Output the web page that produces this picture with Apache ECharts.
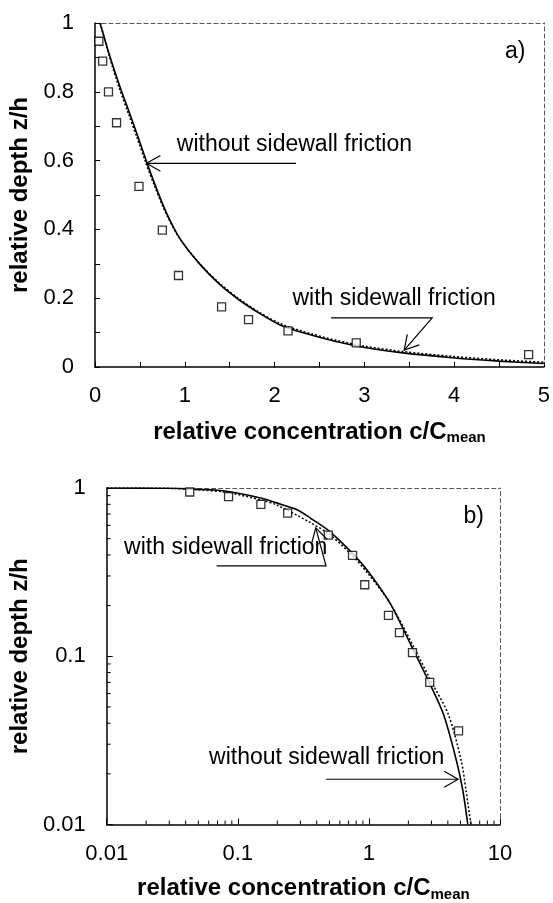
<!DOCTYPE html>
<html>
<head>
<meta charset="utf-8">
<script src="https://cdn.jsdelivr.net/npm/echarts@6.0.0/dist/echarts.min.js"></script>
<style>
html,body{margin:0;padding:0;background:#fff;}
#c{width:553px;height:903px;}
</style>
</head>
<body>
<div id="c"></div>
<script>
// measured points (both panels)
const measX = [0.043, 0.085, 0.15, 0.24, 0.49, 0.75, 0.93, 1.41, 1.71, 2.15, 2.91, 4.83];
const measY = [0.947, 0.889, 0.80, 0.71, 0.525, 0.398, 0.266, 0.175, 0.138, 0.105, 0.07, 0.036];
// panel a) curves
const aSolidX = [0.055,0.167,0.278,0.389,0.481,0.574,0.667,0.796,0.944,1.167,1.389,1.611,1.833,2.056,2.31,2.685,3.02,3.43,3.98,4.5,5.0];
const aSolidY = [1.0,0.902,0.815,0.735,0.667,0.597,0.531,0.448,0.374,0.299,0.24,0.194,0.156,0.123,0.1,0.074,0.056,0.041,0.027,0.017,0.01];
const aDotX = [0.06,0.158,0.265,0.374,0.468,0.562,0.656,0.788,0.94,1.165,1.39,1.61,1.83,2.056,2.31,2.685,3.02,3.43,3.98,4.5,5.0];
const aDotY = [1.0,0.905,0.815,0.735,0.667,0.597,0.531,0.448,0.375,0.301,0.243,0.197,0.159,0.127,0.104,0.078,0.06,0.045,0.031,0.021,0.014];
// panel b) curves
const bSolidX = [0.01,0.03,0.05,0.077,0.152,0.2,0.283,0.355,0.5,0.74,1.0,1.46,2.11,2.88,3.71,4.65,5.2,5.68];
const bSolidY = [1.0,0.996,0.982,0.962,0.87,0.813,0.743,0.665,0.553,0.413,0.315,0.205,0.115,0.07,0.045,0.024,0.016,0.01];
const bDotX = [0.01,0.03,0.05,0.08,0.15,0.2,0.355,0.5,0.74,1.0,1.46,2.23,3.04,4.04,5.06,5.5,6.0];
const bDotY = [1.0,0.995,0.975,0.945,0.85,0.79,0.625,0.53,0.4,0.305,0.205,0.111,0.069,0.045,0.024,0.016,0.01];
// log minor tick values
const logMinorX = [0.02,0.03,0.04,0.05,0.06,0.07,0.08,0.09,0.2,0.3,0.4,0.5,0.6,0.7,0.8,0.9,2,3,4,5,6,7,8,9];
const logMinorY = [0.02,0.03,0.04,0.05,0.06,0.07,0.08,0.09,0.2,0.3,0.4,0.5,0.6,0.7,0.8,0.9];
const logLabelsX = [0.01, 0.1, 1, 10];
const logLabelsY = [0.01, 0.1, 1];

const FF = '"Liberation Sans", Arial, sans-serif';
const zip = (xs, ys) => xs.map((x, i) => [x, ys[i]]);

const chart = echarts.init(document.getElementById('c'), null, {renderer: 'canvas'});

const xTitle = {
  name: '{a|relative concentration c/C}{b|mean}',
  nameLocation: 'middle',
  nameTextStyle: {
    rich: {
      a: {fontSize: 24, fontWeight: 'bold', fontFamily: FF, color: '#000', lineHeight: 30},
      b: {fontSize: 15, fontWeight: 'bold', fontFamily: FF, color: '#000', lineHeight: 30, padding: [12, 0, 0, 0]}
    }
  }
};
const yTitleStyle = {fontSize: 24, fontWeight: 'bold', fontFamily: FF, color: '#000'};
const mainLine = {show: true, onZero: false, lineStyle: {color: '#000', width: 1.5}};
const borderLine = {show: true, onZero: false, lineStyle: {color: '#555', width: 1, type: [4, 3]}};
const labelStyle = {fontSize: 22, fontFamily: FF, color: '#000'};

function tickSeries(xi, yi, data, vertical) {
  return {
    type: 'custom', xAxisIndex: xi, yAxisIndex: yi, clip: false, silent: true, z: 5,
    data: data,
    renderItem: function (params, api) {
      const p = api.coord([api.value(0), api.value(1)]);
      const q = vertical ? [p[0], p[1] - 4] : [p[0] + 4, p[1]];
      return {type: 'line', shape: {x1: p[0], y1: p[1], x2: q[0], y2: q[1]}, style: {stroke: '#000', lineWidth: 1}};
    }
  };
}

const option = {
  backgroundColor: '#fff',
  animation: false,
  grid: [
    {left: 95, right: 8, top: 23, height: 344, containLabel: false},
    {left: 93, right: 53, top: 488, height: 340, containLabel: false}
  ],
  xAxis: [
    Object.assign({gridIndex: 0, type: 'value', min: 0, max: 5, interval: 1,
      nameGap: 50,
      axisLine: mainLine,
      axisTick: {show: true, inside: true, length: 5, lineStyle: {color: '#000'}},
      minorTick: {show: true, splitNumber: 2, length: 5, lineStyle: {color: '#000'}},
      axisLabel: Object.assign({margin: 18}, labelStyle),
      splitLine: {show: false}}, xTitle),
    {gridIndex: 0, type: 'value', position: 'top', min: 0, max: 5, axisLine: borderLine,
      axisTick: {show: false}, axisLabel: {show: false}, splitLine: {show: false}},
    Object.assign({gridIndex: 1, type: 'log', logBase: 10, min: 0.01, max: 10,
      nameGap: 49,
      axisLine: mainLine,
      axisTick: {show: true, inside: true, length: 6, lineStyle: {color: '#000'}},
      axisLabel: Object.assign({margin: 18, formatter: v => {
        const k = logLabelsX.find(t => Math.abs(t - v) / t < 1e-6); return k === undefined ? '' : String(k);
      }}, labelStyle),
      splitLine: {show: false}}, xTitle),
    {gridIndex: 1, type: 'log', logBase: 10, position: 'top', min: 0.01, max: 10, axisLine: borderLine,
      axisTick: {show: false}, axisLabel: {show: false}, splitLine: {show: false}}
  ],
  yAxis: [
    {gridIndex: 0, type: 'value', min: 0, max: 1, interval: 0.2,
      name: 'relative depth z/h', nameLocation: 'middle', nameGap: 62, nameTextStyle: yTitleStyle,
      axisLine: mainLine,
      axisTick: {show: true, inside: true, length: 5, lineStyle: {color: '#000'}},
      minorTick: {show: true, splitNumber: 2, length: 5, lineStyle: {color: '#000'}},
      axisLabel: Object.assign({margin: 21}, labelStyle),
      splitLine: {show: false}},
    {gridIndex: 0, type: 'value', position: 'right', min: 0, max: 1, axisLine: borderLine,
      axisTick: {show: false}, axisLabel: {show: false}, splitLine: {show: false}},
    {gridIndex: 1, type: 'log', logBase: 10, min: 0.01, max: 1,
      name: 'relative depth z/h', nameLocation: 'middle', nameGap: 60, nameTextStyle: yTitleStyle,
      axisLine: mainLine,
      axisTick: {show: true, inside: true, length: 6, lineStyle: {color: '#000'}},
      axisLabel: Object.assign({margin: 21, formatter: v => {
        const k = logLabelsY.find(t => Math.abs(t - v) / t < 1e-6); return k === undefined ? '' : String(k);
      }}, labelStyle),
      splitLine: {show: false}},
    {gridIndex: 1, type: 'log', logBase: 10, position: 'right', min: 0.01, max: 1, axisLine: borderLine,
      axisTick: {show: false}, axisLabel: {show: false}, splitLine: {show: false}}
  ],
  series: [
    {name: 'a solid', type: 'line', xAxisIndex: 0, yAxisIndex: 0, data: zip(aSolidX, aSolidY),
      showSymbol: false, smooth: 0.3, lineStyle: {color: '#000', width: 1.6}, z: 3},
    {name: 'a dotted', type: 'line', xAxisIndex: 0, yAxisIndex: 0, data: zip(aDotX, aDotY),
      showSymbol: false, smooth: 0.3, lineStyle: {color: '#000', width: 1.5, type: [2, 2]}, z: 3},
    {name: 'a meas', type: 'scatter', xAxisIndex: 0, yAxisIndex: 0, data: zip(measX, measY),
      symbol: 'rect', symbolSize: 8, itemStyle: {color: '#fff', borderColor: '#000', borderWidth: 1.3}, z: 4},
    {name: 'b solid', type: 'line', xAxisIndex: 2, yAxisIndex: 2, data: zip(bSolidX, bSolidY),
      showSymbol: false, smooth: 0.3, lineStyle: {color: '#000', width: 1.6}, z: 3},
    {name: 'b dotted', type: 'line', xAxisIndex: 2, yAxisIndex: 2, data: zip(bDotX, bDotY),
      showSymbol: false, smooth: 0.3, lineStyle: {color: '#000', width: 1.5, type: [2, 2]}, z: 3},
    {name: 'b meas', type: 'scatter', xAxisIndex: 2, yAxisIndex: 2, data: zip(measX, measY),
      symbol: 'rect', symbolSize: 8, itemStyle: {color: '#fff', borderColor: '#000', borderWidth: 1.3}, z: 4},
    tickSeries(2, 2, logMinorX.map(v => [v, 0.01]), true),
    tickSeries(2, 2, logMinorY.map(v => [0.01, v]), false)
  ]
};
chart.setOption(option);

// annotations, placed in data coordinates of each panel
const annotations = [
  {panel: 0, text: 'a)', at: [4.68, 0.916], align: 'center'},
  {panel: 0, text: 'without sidewall friction', at: [0.911, 0.645], align: 'left'},
  {panel: 0, arrow: [[2.24, 0.592], [0.574, 0.592]]},
  {panel: 0, text: 'with sidewall friction', at: [2.2, 0.2], align: 'left'},
  {panel: 0, arrow: [[2.63, 0.143], [3.756, 0.143], [3.444, 0.049]]},
  {panel: 1, text: 'b)', at: [6.31, 0.675], align: 'center'},
  {panel: 1, text: 'with sidewall friction', at: [0.01357, 0.4436], align: 'left'},
  {panel: 1, arrow: [[0.0689, 0.344], [0.471, 0.344], [0.393, 0.579]]},
  {panel: 1, text: 'without sidewall friction', at: [0.0604, 0.0251], align: 'left'},
  {panel: 1, arrow: [[0.471, 0.01857], [4.79, 0.01857]]}
];
const finders = [{xAxisIndex: 0, yAxisIndex: 0}, {xAxisIndex: 2, yAxisIndex: 2}];
const graphics = [];
annotations.forEach(a => {
  const f = finders[a.panel];
  if (a.text) {
    const p = chart.convertToPixel(f, a.at);
    graphics.push({type: 'text', x: p[0], y: p[1], z: 10,
      style: {text: a.text, fontSize: 23, fontFamily: FF, fill: '#000', align: a.align, verticalAlign: 'middle'}});
  } else {
    const pts = a.arrow.map(d => chart.convertToPixel(f, d));
    graphics.push({type: 'polyline', z: 10, shape: {points: pts}, style: {stroke: '#000', lineWidth: 1.2, fill: null}});
    const tip = pts[pts.length - 1], prev = pts[pts.length - 2];
    const ang = Math.atan2(prev[1] - tip[1], prev[0] - tip[0]);
    const L = 16, h = 0.52;
    const p1 = [tip[0] + L * Math.cos(ang + h), tip[1] + L * Math.sin(ang + h)];
    const p2 = [tip[0] + L * Math.cos(ang - h), tip[1] + L * Math.sin(ang - h)];
    graphics.push({type: 'polyline', z: 10, shape: {points: [p1, tip, p2]}, style: {stroke: '#000', lineWidth: 1.2, fill: null}});
  }
});
chart.setOption({graphic: graphics});
</script>
</body>
</html>
